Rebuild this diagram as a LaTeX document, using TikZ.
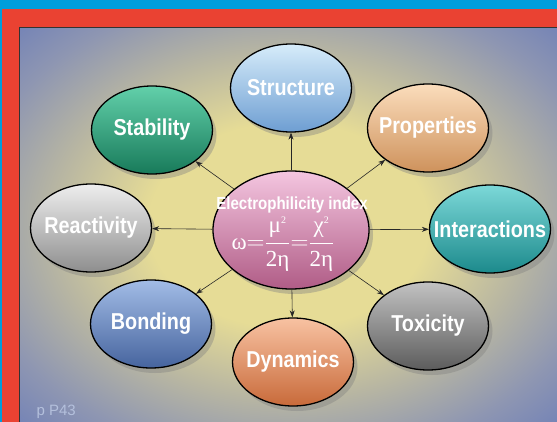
\documentclass[tikz,border=0pt]{standalone}
\usepackage{fontspec}
\usetikzlibrary{shapes.geometric,arrows.meta,shadows}
\newfontfamily\condfont[FakeStretch=0.86]{Liberation Sans}
\newfontfamily\grkfont{Liberation Serif}
\newfontfamily\thinfont{Liberation Sans}
\newcommand{\btxt}[1]{\makebox[0pt]{#1}}
\definecolor{topblue}{HTML}{009EDB}
\definecolor{framered}{HTML}{EA4232}
\definecolor{bgin}{HTML}{E6DC96}
\definecolor{bgmid}{HTML}{B8B6A2}
\definecolor{bgside}{HTML}{8E96B2}
\definecolor{bgout}{HTML}{6A7CB8}
\definecolor{tagc}{HTML}{B4C0DC}
\definecolor{pkA}{HTML}{F4C6E0}\definecolor{pkB}{HTML}{E69CC4}\definecolor{pkC}{HTML}{B05C86}
\definecolor{stA}{HTML}{D6ECFA}\definecolor{stB}{HTML}{9EC8EE}\definecolor{stC}{HTML}{6E9ED2}
\definecolor{prA}{HTML}{FBDDBC}\definecolor{prB}{HTML}{F2BE8C}\definecolor{prC}{HTML}{CE925C}
\definecolor{inA}{HTML}{7CD8D8}\definecolor{inB}{HTML}{38B4B6}\definecolor{inC}{HTML}{1C8A8C}
\definecolor{txA}{HTML}{C2C2C2}\definecolor{txB}{HTML}{8C8C8C}\definecolor{txC}{HTML}{5C5C5C}
\definecolor{dyA}{HTML}{F8C2A2}\definecolor{dyB}{HTML}{EE9460}\definecolor{dyC}{HTML}{C86A3A}
\definecolor{boA}{HTML}{A2BCE6}\definecolor{boB}{HTML}{6E8FC8}\definecolor{boC}{HTML}{46649E}
\definecolor{reA}{HTML}{EEEEEE}\definecolor{reB}{HTML}{C8C8C8}\definecolor{reC}{HTML}{8E8E8E}
\definecolor{sbA}{HTML}{62D0AA}\definecolor{sbB}{HTML}{2CA67E}\definecolor{sbC}{HTML}{187A5A}
\pgfdeclareradialshading{panelshade}{\pgfpoint{0bp}{0bp}}{%
  color(0bp)=(bgin); color(13bp)=(bgin); color(22bp)=(bgmid);
  color(30bp)=(bgside); color(38bp)=(bgout); color(50bp)=(bgout)}
\tikzset{
  bubble/.style={ellipse, draw=black, line width=1.3pt, minimum width=121pt,
    minimum height=88pt, inner sep=0pt, text=white,
    font=\condfont\bfseries\fontsize{23}{26}\selectfont,
    drop shadow={opacity=0.4, shadow xshift=4pt, shadow yshift=-5pt}},
  tint/.style={top color=#1A, middle color=#1B, bottom color=#1C},
  link/.style={draw=black!85, line width=0.6pt, -{Stealth[length=7pt,width=5pt]}}
}
\begin{document}
\begin{tikzpicture}[x=1pt,y=-1pt]
\useasboundingbox (0,0) rectangle (557,422);
\fill[topblue] (0,0) rectangle (557,422);
\fill[framered] (1.5,9) rectangle (557,422);
\shade[shading=panelshade] (19.5,28) rectangle (557,422);
\draw[black!80, line width=1pt] (19.5,422) -- (19.5,28) -- (557,28);
\node[anchor=base west, text=tagc, font=\thinfont\fontsize{15}{17}\selectfont] (tag) at (33,415) {p P43};
% central node
\node[bubble, minimum width=156pt, minimum height=118pt, tint=pk] (c) at (291,230) {};
\node[text=white, font=\condfont\bfseries\fontsize{17.5}{20}\selectfont] (ct) at (292,205) {Electrophilicity index};
\node[text=white, font=\grkfont\fontsize{23}{25}\selectfont] (cf) at (283,244)
  {$\displaystyle \mbox{ω}{=}\frac{\mbox{μ}^{\mbox{\fontsize{10}{11}\selectfont 2}}}{\mbox{2η}}{=}\frac{\mbox{χ}^{\mbox{\fontsize{10}{11}\selectfont 2}}}{\mbox{2η}}$};
% outer nodes
\node[bubble, tint=st] (st) at (291,88) {\btxt{Structure}};
\node[bubble, tint=pr] (pr) at (428,128) {\btxt{Properties}};
\node[bubble, tint=in] (in) at (490,229) {\btxt{Interactions}};
\node[bubble, tint=tx] (tx) at (428,326) {\btxt{Toxicity}};
\node[bubble, tint=dy] (dy) at (293,362) {\btxt{Dynamics}};
\node[bubble, tint=bo] (bo) at (151,324) {\btxt{Bonding}};
\node[bubble, tint=re] (re) at (91,228) {\btxt{Reactivity}};
\node[bubble, tint=sb] (sb) at (152,130) {\btxt{Stability}};
% connectors
\foreach \t in {st,pr,in,tx,dy,bo,re,sb} { \draw[link] (c) -- (\t); }
\end{tikzpicture}
\end{document}
